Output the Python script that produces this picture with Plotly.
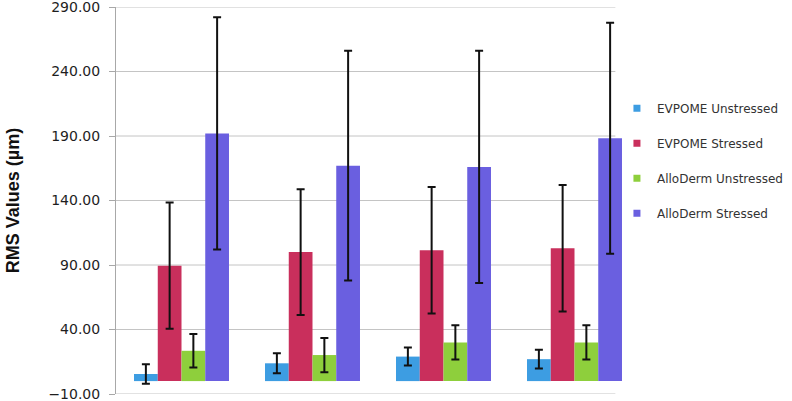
import plotly.graph_objects as go

categories = ["1", "2", "3", "4"]
series_names = ["EVPOME Unstressed", "EVPOME Stressed", "AlloDerm Unstressed", "AlloDerm Stressed"]
evpome_unstressed = [5.5, 13.8, 19.0, 17.0]
evpome_unstressed_err = [7.5, 7.7, 7.0, 7.3]
evpome_stressed = [89.5, 100.0, 101.5, 103.0]
evpome_stressed_err = [49.0, 48.8, 49.0, 49.0]
alloderm_unstressed = [23.5, 20.2, 30.0, 30.0]
alloderm_unstressed_err = [13.0, 13.3, 13.2, 13.2]
alloderm_stressed = [192.0, 167.0, 166.0, 188.2]
alloderm_stressed_err = [90.0, 89.0, 90.0, 89.5]
y_ticks = [-10, 40, 90, 140, 190, 240, 290]

colors = ["#3d9de2", "#c92f5c", "#8ecf3c", "#6a5fe0"]
values = [evpome_unstressed, evpome_stressed, alloderm_unstressed, alloderm_stressed]
errors = [evpome_unstressed_err, evpome_stressed_err, alloderm_unstressed_err, alloderm_stressed_err]

fig = go.Figure()
for name, vals, errs, col in zip(series_names, values, errors, colors):
    fig.add_trace(go.Bar(
        x=categories, y=vals, name=name, marker_color=col, marker_line_width=0,
        showlegend=False,
        error_y=dict(type="data", array=errs, visible=True, color="#111111",
                     thickness=2, width=4),
    ))
# legend entries with small square symbols
for i, (name, col) in enumerate(zip(series_names, colors)):
    fig.add_trace(go.Scatter(
        x=[None], y=[None], mode="markers", name=name, legendgroup=str(i),
        marker=dict(symbol="square", size=7, color=col),
    ))

for t in y_ticks:
    fig.add_shape(type="line", xref="paper", yref="y", x0=0, x1=0.953, y0=t, y1=t,
                  line=dict(color="#c4c4c4", width=1), layer="below")

fig.update_layout(
    width=792, height=401,
    margin=dict(l=116, r=152, t=7, b=7, autoexpand=False),
    plot_bgcolor="white", paper_bgcolor="white",
    barmode="group", bargap=0.275, bargroupgap=0,
    showlegend=True,
    legend=dict(x=0.956, xanchor="left", y=0.776, yanchor="top",
                font=dict(family="DejaVu Sans", size=12, color="#333333"),
                tracegroupgap=16, traceorder="grouped", bgcolor="rgba(0,0,0,0)"),
    xaxis=dict(showticklabels=False, showgrid=False, zeroline=False, showline=False,
               range=[-0.5, 3.5], automargin=False),
    yaxis=dict(range=[-10, 290], tickvals=y_ticks, tickformat=".2f",
               showgrid=False, zeroline=False, automargin=False,
               showline=True, linecolor="#a8a8a8", linewidth=1,
               ticks="outside", ticklen=6, tickcolor="#a8a8a8", ticklabelstandoff=6,
               ticklabeloverflow="allow",
               tickfont=dict(family="DejaVu Sans", size=14, color="#1e1e1e"),
               title=dict(text="RMS Values (µm)", standoff=24,
                          font=dict(family="Liberation Sans", size=18, color="#111111", weight="bold"))),
)

fig.write_html("out.html", config={"displayModeBar": False},
               post_script="document.body.style.margin='0px';document.body.style.overflow='hidden';")
